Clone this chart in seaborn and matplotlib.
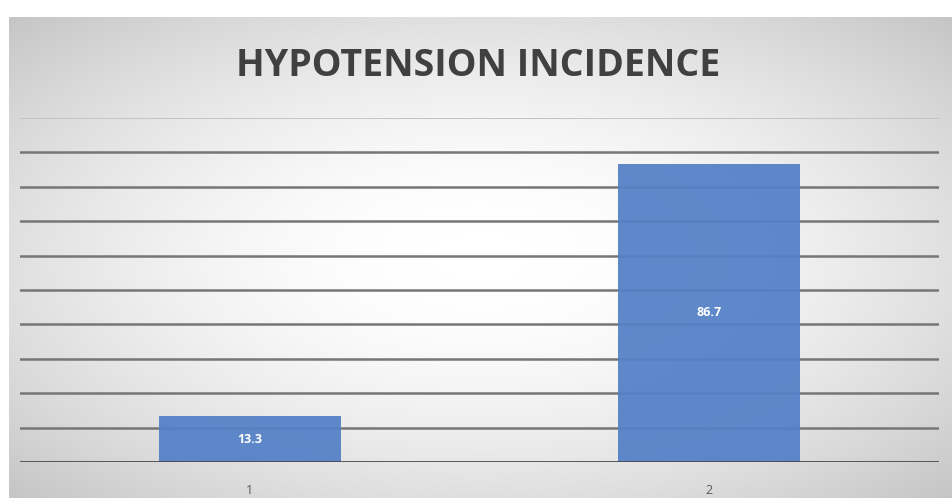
import numpy as np
import pandas as pd
import matplotlib
matplotlib.use("Agg")
import matplotlib.pyplot as plt
import seaborn as sns

categories = ["1", "2"]
values = [13.3, 86.7]
title = "HYPOTENSION INCIDENCE"

sns.set_theme(style="white")
plt.rcParams['font.family'] = ['Open Sans', 'DejaVu Sans']

W, H = 952, 498
fig = plt.figure(figsize=(W / 100, H / 100), dpi=100)
fig.patch.set_facecolor("white")

# radial gradient background
bg = fig.add_axes([9 / W, 0, (W - 9) / W, (H - 17) / H])
ny, nx = 240, 470
yy, xx = np.mgrid[-1:1:ny * 1j, -1:1:nx * 1j]
r = np.sqrt((xx * 1.0) ** 2 + (yy * 1.0) ** 2) / np.sqrt(2)
v = np.clip(1.0 - 0.26 * np.clip(r - 0.08, 0, None) ** 1.6, 0, 1)
img = np.dstack([v, v, v])
bg.imshow(img, aspect="auto", extent=[0, 1, 0, 1], interpolation="bilinear")
bg.set_axis_off()

ax = fig.add_axes([20 / W, 36 / H, 919 / W, 344 / H])
ax.patch.set_alpha(0)
ax.set_ylim(0, 100)
ax.set_xlim(-0.5, 1.5)

for yv in range(10, 100, 10):
    ax.axhline(yv, color="#767676", lw=1.8, zorder=0)
ax.axhline(100, color="#c4c4c4", lw=1.4, zorder=0)

df = pd.DataFrame({"cat": categories, "val": values})
sns.barplot(data=df, x="cat", y="val", color="#5581c7", saturation=1,
            width=0.396, ax=ax, zorder=2, alpha=0.94, linewidth=0)
ax.set_xlim(-0.5, 1.5)
ax.axhline(0, color="#4a4a4a", lw=2.0, zorder=3)

for c in ax.containers:
    ax.bar_label(c, labels=[f"{v:.1f}" for v in values], label_type="center",
                 color="white", fontsize=9, fontweight="bold")

for s in ax.spines.values():
    s.set_visible(False)
ax.set_yticks([])
ax.set_xlabel("")
ax.set_ylabel("")
ax.tick_params(axis="x", length=0, pad=16, labelsize=9, labelcolor="#5a5a5a")

fig.text(478 / W, 1 - 66 / H, title, ha="center", va="center",
         fontsize=27, fontweight="bold", color="#404040")

fig.savefig("out.png", dpi=100)
